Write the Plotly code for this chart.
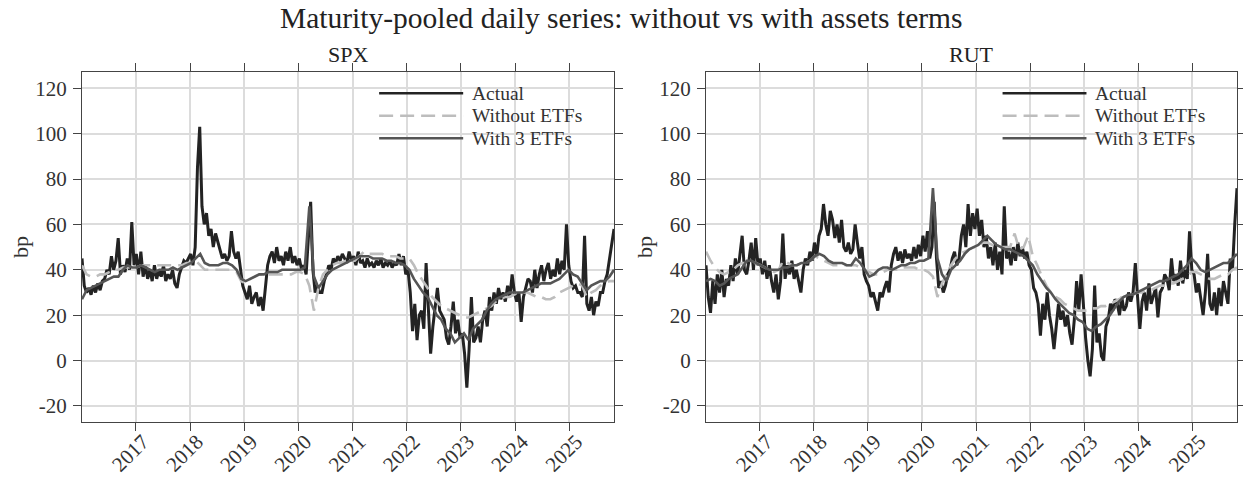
import pandas as pd
import plotly.graph_objects as go

# ---------------- data ----------------
start_date = "2016-01-04"
end_date = "2025-10-29"

series_names = ["Actual", "Without ETFs", "With 3 ETFs"]
panel_titles = ["SPX", "RUT"]
main_title = "Maturity-pooled daily series: without vs with assets terms"
year_ticks = [2017, 2018, 2019, 2020, 2021, 2022, 2023, 2024, 2025]
y_ticks = [-20, 0, 20, 40, 60, 80, 100, 120]

# Actual: two readings per month (semi-monthly), Jan 2016 .. Oct 2025
spx_actual = [
    45, 33, 30, 32, 29, 33, 30, 34, 31, 35, 36, 40, 38, 46, 40, 44, 54, 38, 42, 39, 45, 40, 61, 42,
    47, 38, 48, 37, 42, 36, 40, 35, 42, 36, 40, 37, 42, 35, 38, 36, 40, 34, 32, 38, 41, 44, 43, 45,
    47, 42, 50, 85, 103, 68, 60, 65, 55, 58, 50, 56, 52, 48, 45, 47, 44, 46, 57, 48, 45, 48, 40, 33,
    30, 27, 33, 25, 28, 30, 24, 28, 22, 33, 42, 46, 48, 43, 50, 44, 46, 42, 48, 44, 50, 43, 46, 42,
    45, 40, 42, 38, 55, 70, 40, 30, 33, 30, 30, 35, 38, 42, 40, 45, 43, 46, 44, 47, 45, 43, 48, 44,
    46, 42, 48, 43, 44, 41, 45, 42, 43, 41, 44, 42, 45, 41, 43, 42, 44, 41, 43, 42, 47, 42, 46, 38,
    40, 30, 13, 25, 9, 20, 22, 14, 43, 20, 3, 15, 25, 32, 22, 20, 18, 10, 7, 15, 26, 12, 18, 10,
    12, 3, -12, 5, 28, 8, 10, 15, 8, 18, 22, 15, 28, 22, 30, 25, 32, 27, 30, 26, 33, 28, 38, 30,
    26, 30, 17, 28, 32, 36, 35, 30, 40, 32, 38, 42, 35, 40, 43, 36, 40, 37, 45, 38, 44, 40, 60, 42,
    35, 32, 33, 30, 30, 28, 55, 25, 22, 28, 20, 26, 24, 30, 30, 35, 38, 45, 50, 58,
]
# monthly readings, Jan 2016 .. Oct 2025
spx_without = [
    42, 38, 37, 37, 38, 38, 39, 40, 40, 41, 41, 41,
    41, 42, 42, 42, 42, 42, 42, 42, 42, 42, 42, 43,
    43, 44, 42, 40, 40, 40, 40, 40, 40, 40, 39, 35,
    34, 36, 37, 38, 38, 38, 38, 38, 38, 38, 38, 39,
    39, 38, 33, 22, 32, 38, 40, 42, 43, 43, 44, 44,
    44, 46, 48, 47, 47, 47, 47, 46, 46, 46, 45, 45,
    45, 42, 38, 35, 32, 28, 26, 24, 23, 22, 21, 20,
    19, 19, 20, 21, 22, 23, 24, 26, 27, 28, 28, 29,
    30, 30, 30, 29, 28, 28, 27, 27, 28, 30, 31, 32,
    33, 34, 33, 28, 30, 31, 33, 34, 35, 35,
]
spx_with3 = [
    27, 31, 32, 33, 34, 35, 36, 37, 37, 40, 42, 41,
    41, 42, 41, 40, 39, 40, 40, 40, 41, 40, 41, 42,
    43, 45, 47, 43, 42, 42, 42, 43, 43, 42, 40, 36,
    35, 36, 37, 38, 38, 39, 39, 39, 40, 40, 40, 40,
    40, 41, 68, 37, 32, 35, 38, 40, 41, 42, 43, 44,
    45, 46, 46, 46, 45, 45, 45, 44, 44, 43, 43, 42,
    40, 36, 33, 30, 28, 24, 20, 18, 14, 12, 8, 10,
    12, 9, 14, 16, 18, 22, 25, 27, 28, 29, 30, 30,
    30, 30, 31, 32, 33, 34, 34, 34, 35, 36, 38, 40,
    38, 37, 34, 31, 33, 34, 35, 35, 37, 40,
]

rut_actual = [
    42, 28, 21, 35, 25, 38, 30, 40, 28, 36, 33, 42, 35, 45, 38, 46, 55, 40, 38, 44, 52, 40, 54, 42,
    45, 38, 44, 36, 42, 35, 30, 38, 27, 35, 56, 36, 42, 38, 44, 36, 40, 35, 30, 40, 45, 42, 48, 44,
    52, 46, 55, 58, 69, 60, 55, 66, 62, 54, 60, 52, 62, 50, 48, 52, 47, 49, 60, 52, 45, 50, 38, 35,
    33, 28, 30, 26, 22, 30, 28, 32, 35, 30, 42, 47, 50, 44, 48, 43, 49, 45, 47, 44, 50, 45, 51, 46,
    55, 48, 57, 45, 50, 70, 45, 32, 35, 30, 33, 38, 40, 45, 48, 42, 45, 55, 60, 50, 69, 55, 65, 58,
    67, 55, 62, 50, 55, 45, 50, 42, 52, 40, 48, 38, 68, 45, 48, 42, 50, 44, 52, 46, 50, 45, 48, 42,
    40, 32, 30, 25, 11, 25, 18, 30, 20, 14, 5, 15, 25, 18, 22, 15, 20, 12, 7, 18, 35, 22, 38, 25,
    10, 0, -7, 5, 33, 8, 12, 2, 0, 15, 18, 25, 22, 27, 25, 20, 28, 22, 24, 30, 26, 30, 43, 28,
    14, 26, 30, 22, 34, 25, 28, 32, 19, 30, 32, 38, 36, 31, 45, 35, 38, 33, 44, 34, 40, 36, 57, 40,
    38, 30, 34, 28, 20, 30, 47, 25, 22, 30, 20, 32, 24, 35, 30, 25, 45, 40, 60, 76,
]
rut_without = [
    48, 44, 41, 39, 38, 39, 40, 42, 43, 43, 43, 43,
    42, 41, 40, 39, 40, 44, 43, 42, 42, 43, 43, 44,
    46, 45, 44, 43, 42, 42, 42, 42, 42, 42, 41, 40,
    39, 38, 38, 39, 40, 40, 40, 41, 41, 41, 41, 40,
    40, 39, 37, 28, 34, 38, 42, 45, 47, 48, 49, 50,
    50, 52, 52, 51, 50, 50, 50, 50, 56, 49, 50, 55,
    46, 42, 37, 33, 30, 28, 27, 25, 24, 23, 22, 22,
    22, 23, 23, 24, 24, 25, 26, 27, 28, 29, 29, 30,
    30, 31, 31, 32, 33, 33, 34, 34, 35, 36, 37, 39,
    39, 38, 37, 36, 36, 37, 38, 38, 40, 41,
]
rut_with3 = [
    35, 36, 35, 33, 34, 36, 37, 38, 41, 44, 44, 43,
    42, 41, 40, 40, 40, 41, 41, 42, 42, 43, 43, 44,
    46, 47, 46, 44, 43, 43, 43, 42, 42, 45, 43, 40,
    37, 38, 40, 41, 41, 40, 41, 42, 42, 43, 43, 44,
    44, 45, 76, 45, 38, 35, 40, 42, 44, 47, 49, 50,
    51, 53, 55, 53, 51, 50, 49, 49, 48, 47, 46, 44,
    42, 38, 35, 32, 30, 27, 25, 23, 21, 20, 18, 17,
    14, 13, 15, 16, 18, 20, 23, 26, 28, 29, 29, 30,
    31, 32, 33, 34, 35, 35, 36, 37, 38, 40, 42, 45,
    43, 40, 39, 40, 41, 42, 43, 43, 45, 47,
]

# ---------------- styling ----------------
FONT = "Liberation Serif"
TXT = "#333333"
AXC = "#444444"
GRID = "#dcdcdc"
colors = {"Actual": "#232323", "Without ETFs": "#bdbdbd", "With 3 ETFs": "#555555"}
dashes = {"Actual": "solid", "Without ETFs": "14px,7px", "With 3 ETFs": "solid"}
widths = {"Actual": 3.0, "Without ETFs": 2.6, "With 3 ETFs": 2.6}
legend_widths = {"Actual": 2.5, "Without ETFs": 2.5, "With 3 ETFs": 2.5}

panels = [
    {"Actual": spx_actual, "Without ETFs": spx_without, "With 3 ETFs": spx_with3},
    {"Actual": rut_actual, "Without ETFs": rut_without, "With 3 ETFs": rut_with3},
]

fig = go.Figure()
for p, panel in enumerate(panels):
    xa = "x" if p == 0 else "x2"
    ya = "y" if p == 0 else "y2"
    for name in series_names:
        vals = panel[name]
        dates = pd.date_range(start_date, end_date, periods=len(vals))
        fig.add_trace(go.Scatter(
            x=dates, y=vals, mode="lines", name=name, showlegend=False,
            line=dict(color=colors[name], width=widths[name], dash=dashes[name]),
            xaxis=xa, yaxis=ya,
        ))

W, H = 1243, 479
ML, MR, MT, MB = 82, 6, 72, 57
plot_w = W - ML - MR
plot_h = H - MT - MB
d1 = [0, (614 - ML) / plot_w]
d2 = [(706 - ML) / plot_w, 1]

x_tickvals = [f"{y}-01-01" for y in year_ticks]
x_ticktext = [str(y) for y in year_ticks]
y_ticktext = [str(v) for v in y_ticks]

common_x = dict(
    range=[start_date, end_date], tickvals=x_tickvals, ticktext=x_ticktext,
    tickangle=-45, showgrid=True, gridcolor=GRID, gridwidth=1.5, automargin=False,
    ticklabelshift=7, ticklabelstandoff=-10,
    showline=True, linecolor=AXC, linewidth=1.3, mirror="allticks",
    ticks="outside", ticklen=8, tickwidth=1.3, tickcolor=AXC,
    tickfont=dict(family=FONT, size=21, color=TXT), zeroline=False,
)
common_y = dict(
    range=[-27.1, 127.2], tickvals=y_ticks, ticktext=y_ticktext, automargin=False,
    showgrid=True, gridcolor=GRID, gridwidth=1.5, ticklabelstandoff=2,
    showline=True, linecolor=AXC, linewidth=1.3, mirror="allticks",
    ticks="outside", ticklen=8, tickwidth=1.3, tickcolor=AXC,
    tickfont=dict(family=FONT, size=21, color=TXT), zeroline=False,
)

fig.update_layout(
    width=W, height=H,
    margin=dict(l=ML, r=MR, t=MT, b=MB, autoexpand=False),
    paper_bgcolor="white", plot_bgcolor="white",
    font=dict(family=FONT, color=TXT),
    showlegend=False,
    xaxis=dict(domain=d1, anchor="y", **common_x),
    yaxis=dict(domain=[0, 1], anchor="x", **common_y),
    xaxis2=dict(domain=d2, anchor="y2", **common_x),
    yaxis2=dict(domain=[0, 1], anchor="x2", **common_y),
)

# figure title (centred on the page, kept fully inside the top edge)
fig.add_annotation(text=main_title, xref="paper", yref="paper",
                   x=(W / 2 - ML) / plot_w, y=1 + (MT - 18) / plot_h,
                   xanchor="center", yanchor="middle", showarrow=False,
                   font=dict(family=FONT, size=29.5, color="#222222"))

legend_rows = [1 - 21.3 / plot_h, 1 - 43.8 / plot_h, 1 - 66.3 / plot_h]
for p in range(2):
    xd = "x domain" if p == 0 else "x2 domain"
    yd = "y domain" if p == 0 else "y2 domain"
    fig.add_annotation(text=panel_titles[p], xref=xd, yref=yd, x=0.5, y=1 + 17.5 / plot_h,
                       xanchor="center", yanchor="middle", showarrow=False,
                       font=dict(family=FONT, size=22, color="#222222"))
    fig.add_annotation(text="bp", xref=xd, yref=yd, x=0, xshift=-62, y=0.5,
                       xanchor="center", yanchor="middle", textangle=-90, showarrow=False,
                       font=dict(family=FONT, size=22, color=TXT))
    for i, name in enumerate(series_names):
        fig.add_shape(type="line", xref=xd, yref=yd, x0=0.5585, x1=0.7165,
                      y0=legend_rows[i], y1=legend_rows[i],
                      line=dict(color=colors[name], width=legend_widths[name], dash=dashes[name]))
        fig.add_annotation(text=name, xref=xd, yref=yd, x=0.729, y=legend_rows[i],
                           xanchor="left", yanchor="middle", showarrow=False,
                           font=dict(family=FONT, size=19.5, color=TXT))

fig.write_html("out.html", config={"displayModeBar": False},
               post_script="document.body.style.margin='0px';")
